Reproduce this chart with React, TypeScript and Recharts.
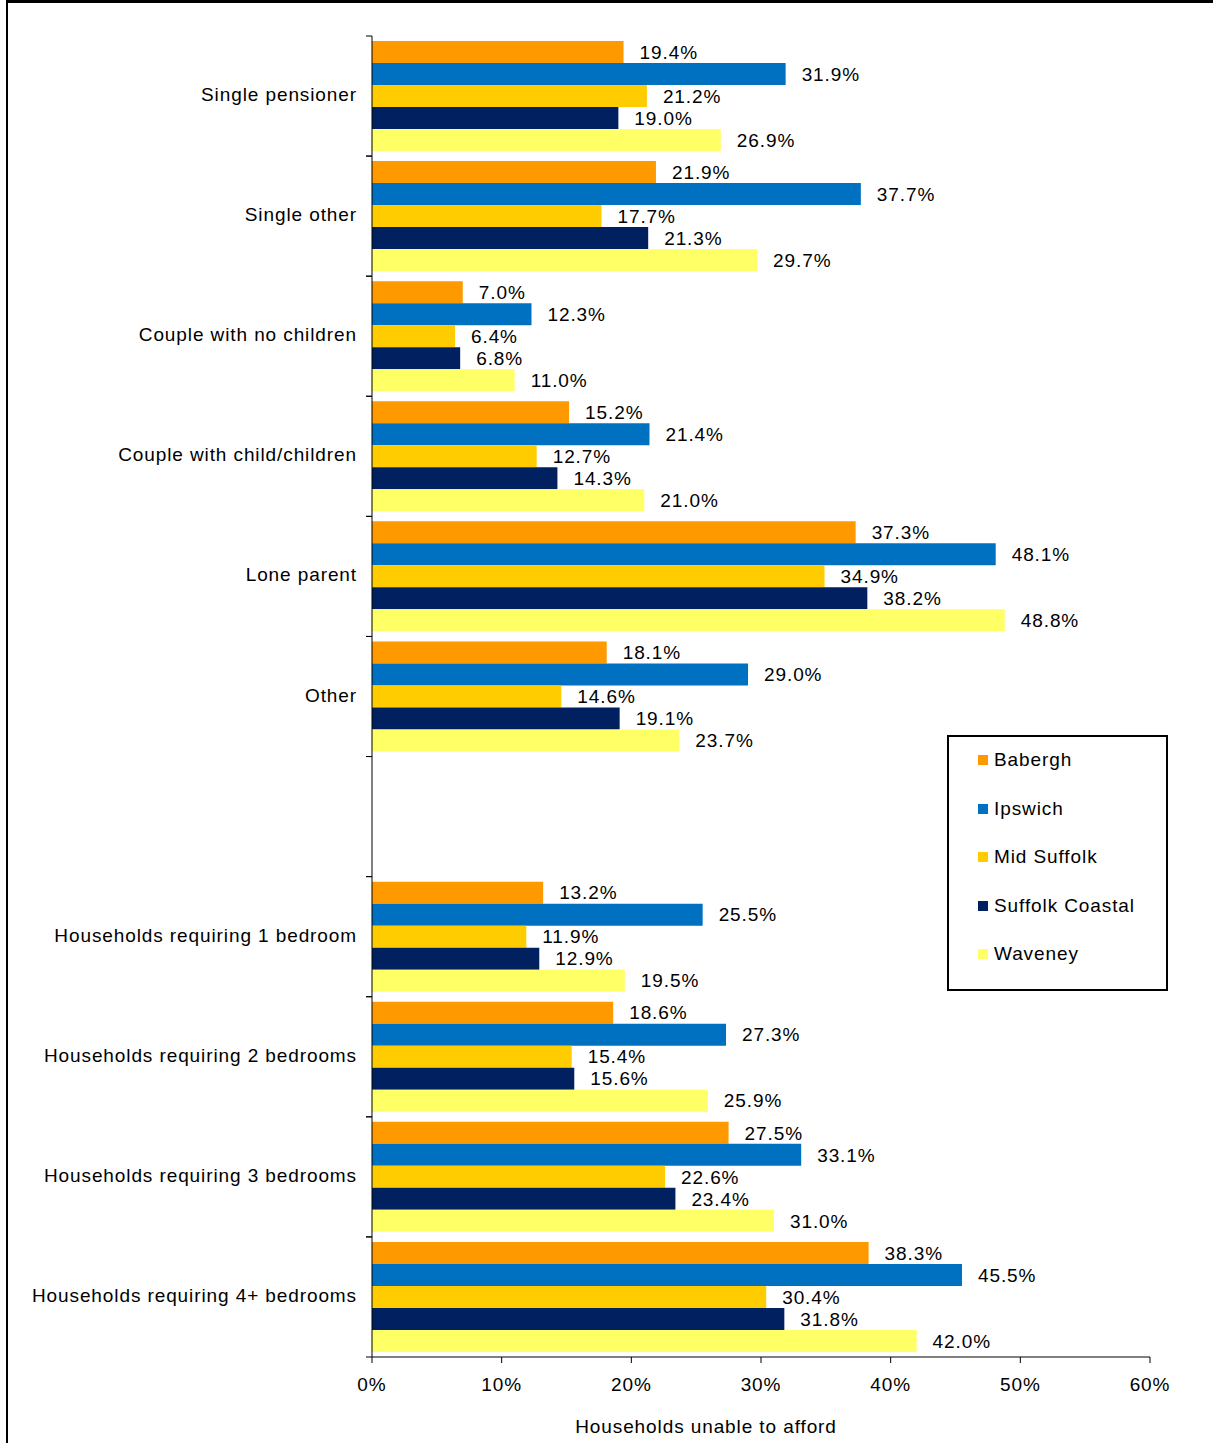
import { BarChart, Bar, XAxis, YAxis, LabelList, Label } from 'recharts';

const categories = [
  'Single pensioner',
  'Single other',
  'Couple with no children',
  'Couple with child/children',
  'Lone parent',
  'Other',
  '',
  'Households requiring 1 bedroom',
  'Households requiring 2 bedrooms',
  'Households requiring 3 bedrooms',
  'Households requiring 4+ bedrooms',
];

const babergh = [19.4, 21.9, 7.0, 15.2, 37.3, 18.1, null, 13.2, 18.6, 27.5, 38.3];
const ipswich = [31.9, 37.7, 12.3, 21.4, 48.1, 29.0, null, 25.5, 27.3, 33.1, 45.5];
const midSuffolk = [21.2, 17.7, 6.4, 12.7, 34.9, 14.6, null, 11.9, 15.4, 22.6, 30.4];
const suffolkCoastal = [19.0, 21.3, 6.8, 14.3, 38.2, 19.1, null, 12.9, 15.6, 23.4, 31.8];
const waveney = [26.9, 29.7, 11.0, 21.0, 48.8, 23.7, null, 19.5, 25.9, 31.0, 42.0];

const xTicks = [0, 10, 20, 30, 40, 50, 60];

const series = [
  { key: 'babergh', name: 'Babergh', color: '#FF9900', values: babergh },
  { key: 'ipswich', name: 'Ipswich', color: '#0070C0', values: ipswich },
  { key: 'midSuffolk', name: 'Mid Suffolk', color: '#FFCC00', values: midSuffolk },
  { key: 'suffolkCoastal', name: 'Suffolk Coastal', color: '#002060', values: suffolkCoastal },
  { key: 'waveney', name: 'Waveney', color: '#FFFF66', values: waveney },
];

const data = categories.map((name, i) => {
  const row: Record<string, string | number | null> = { name };
  series.forEach((s) => {
    row[s.key] = s.values[i];
  });
  return row;
});

const FONT = '"Liberation Sans", Arial, sans-serif';
const FS = 19;
const LS = 0.9;
const WIDTH = 1213;
const HEIGHT = 1443;
const TOP = 36;
const BOTTOM = 86;
const BAND = (HEIGHT - TOP - BOTTOM) / categories.length;

const textStyle = { fontSize: FS, fill: '#000', fontFamily: FONT, letterSpacing: LS };

function CategoryTick(props: any) {
  const { x, y, payload } = props;
  const half = BAND / 2;
  return (
    <g>
      <line x1={x} x2={x + 6} y1={y - half} y2={y - half} stroke="#000" />
      <line x1={x} x2={x + 6} y1={y + half} y2={y + half} stroke="#000" />
      <text x={x - 9} y={y} dy={5} textAnchor="end" style={textStyle}>
        {payload.value}
      </text>
    </g>
  );
}

function LegendBox() {
  return (
    <div
      style={{
        position: 'absolute',
        left: 947,
        top: 735,
        width: 217,
        height: 241,
        border: '2px solid #000',
        background: '#fff',
        paddingTop: 11,
        boxSizing: 'content-box',
      }}
    >
      {series.map((s) => (
        <div
          key={s.key}
          style={{
            display: 'flex',
            alignItems: 'center',
            height: 24,
            marginBottom: 24.6,
            paddingLeft: 29,
            fontSize: FS,
            letterSpacing: LS,
            fontFamily: FONT,
            color: '#000',
          }}
        >
          <div style={{ width: 10, height: 10, background: s.color, marginRight: 6 }} />
          <span>{s.name}</span>
        </div>
      ))}
    </div>
  );
}

export default function App() {
  return (
    <div style={{ position: 'absolute', top: 0, left: 0, width: WIDTH, height: HEIGHT, background: '#fff' }}>
      <div
        style={{
          position: 'absolute',
          top: 0,
          left: 6,
          right: 0,
          bottom: 0,
          borderTop: '3px solid #000',
          borderLeft: '2px solid #000',
        }}
      />
      <div style={{ position: 'absolute', top: 0, left: 0 }}>
        <BarChart
          width={WIDTH}
          height={HEIGHT}
          data={data}
          layout="vertical"
          margin={{ top: TOP, right: 63, bottom: 0, left: 0 }}
          barSize={22}
          barGap={0}
          style={{ fontFamily: FONT }}
        >
          <XAxis
            type="number"
            domain={[0, 60]}
            ticks={xTicks}
            tickFormatter={(v: number) => `${v}%`}
            height={BOTTOM}
            axisLine={{ stroke: '#000' }}
            tickLine={{ stroke: '#000' }}
            tickSize={6}
            tickMargin={15}
            tick={textStyle}
          >
            <Label
              value="Households unable to afford"
              position="insideBottom"
              offset={10}
              dx={-55}
              style={textStyle}
            />
          </XAxis>
          <YAxis
            type="category"
            dataKey="name"
            width={372}
            axisLine={{ stroke: '#000' }}
            tickLine={false}
            interval={0}
            tickMargin={0}
            tick={<CategoryTick />}
          />
          {series.map((s) => (
            <Bar key={s.key} dataKey={s.key} name={s.name} fill={s.color} isAnimationActive={false}>
              <LabelList
                dataKey={s.key}
                position="right"
                offset={16}
                formatter={(v: any) => (v == null ? '' : `${Number(v).toFixed(1)}%`)}
                style={textStyle}
              />
            </Bar>
          ))}
        </BarChart>
      </div>
      <LegendBox />
    </div>
  );
}
